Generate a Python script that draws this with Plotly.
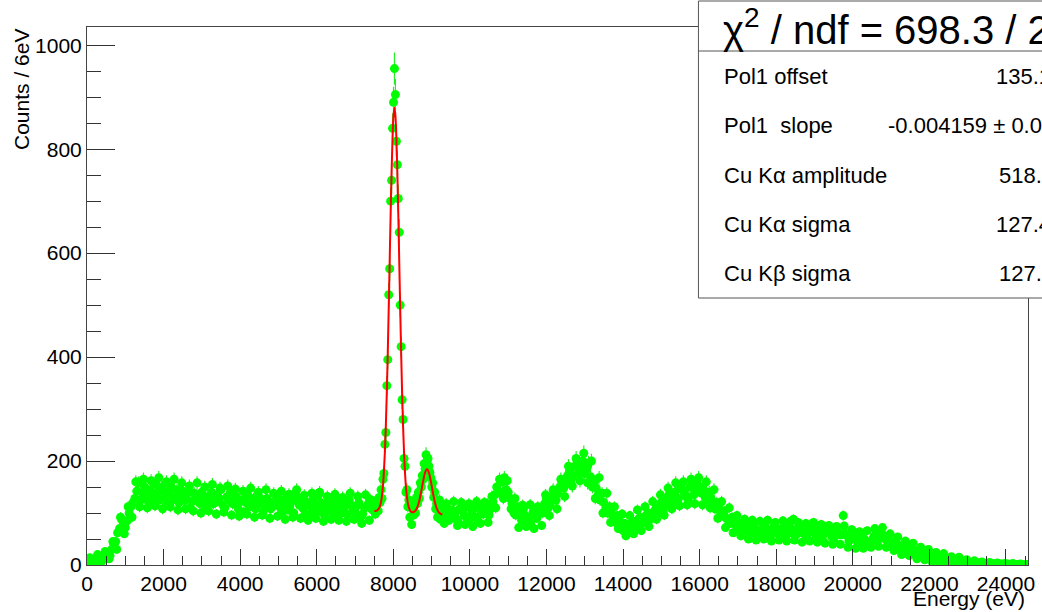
import numpy as np
import plotly.graph_objects as go

# ---------------- data ----------------
# low-energy part, bins every 100 eV starting at 50 eV
counts_low = [3, 6, 9, 12, 16, 20, 30, 45, 70, 78,
              85, 112, 128, 158, 138, 130, 145, 128, 140, 150,
              132, 140, 126, 145, 135, 124, 140, 122, 130, 118,
              133, 125, 140, 120, 128, 115, 131, 140, 118, 108,
              125, 120, 112, 128, 116, 124, 110, 122, 118, 132,
              110, 120, 106, 125, 138, 115, 108, 120, 100, 113,
              135, 108, 118, 104, 122, 112, 100, 118, 125, 108,
              114, 92, 110, 118, 106]
energy_low = 50 + 100 * np.arange(len(counts_low))

# interleaved low-energy bins, every 100 eV starting at 100 eV
counts_low_b = [5, 2, 14, 10, 22, 18, 40, 62, 88, 72,
                100, 120, 142, 125, 150, 122, 138, 155, 125, 142,
                118, 150, 130, 120, 142, 128, 110, 138, 125, 140,
                112, 128, 118, 135, 145, 110, 125, 118, 132, 122,
                102, 135, 118, 108, 130, 102, 128, 108, 115, 126,
                100, 130, 114, 100, 122, 128, 96, 115, 126, 102,
                120, 96, 128, 112, 98, 125, 108, 98, 115, 102,
                120, 98, 112, 126]
energy_low_b = 100 + 100 * np.arange(len(counts_low_b))

# upward fluctuations along the top of the band (every 200 eV from 75 eV)
counts_low_top = [14, 20, 26, 45, 92, 112, 160, 165, 162, 168,
                  160, 165, 158, 152, 158, 150, 155, 148, 152, 146,
                  142, 148, 140, 145, 138, 142, 136, 145, 134, 138,
                  140, 132, 136, 130, 138, 132, 135]
energy_low_top = 75 + 200 * np.arange(len(counts_low_top))

# downward fluctuations along the bottom of the band (every 200 eV from 175 eV)
counts_low_bot = [2, 6, 12, 30, 60, 92, 112, 110, 114, 108,
                  112, 106, 108, 104, 100, 104, 98, 102, 96, 94,
                  98, 92, 96, 90, 94, 88, 92, 90, 86, 90,
                  84, 88, 86, 84, 88, 80, 86]
energy_low_bot = 175 + 200 * np.arange(len(counts_low_bot))

# Cu K-alpha / K-beta region, every 25 eV starting at 7505 eV
counts_peak = [112, 98, 118, 125, 104, 130, 120, 145, 128, 165,
               176, 232, 255, 345, 395, 520, 570, 700, 740, 840,
               890, 955, 905, 815, 770, 705, 640, 500, 420, 318,
               280, 205, 190, 140, 145, 112, 125, 92, 115, 78,
               108, 96, 120, 100, 130, 118, 140, 128, 158, 150,
               172, 165, 195, 185, 212, 200, 205, 190, 178, 168,
               150, 158, 130, 140, 108, 118, 92, 104, 125, 88,
               106, 94, 112, 80, 100, 118, 95, 108, 86]
energy_peak = 7505 + 25 * np.arange(len(counts_peak))

# high-energy part, every 100 eV starting at 9550 eV
counts_high = [105, 88, 110, 95, 84, 102, 92, 112, 98, 118,
               108, 135, 142, 160, 145, 128, 100, 112, 86, 95,
               80, 102, 90, 108, 118, 110, 132, 125, 150, 148,
               172, 165, 190, 178, 200, 185, 170, 160, 135, 138,
               110, 112, 88, 95, 72, 80, 65, 84, 78, 92,
               85, 100, 95, 108, 112, 105, 128, 122, 140, 128,
               145, 132, 150, 135, 155, 138, 130, 140, 118, 120,
               100, 104, 86, 92, 76, 80, 66, 75, 62, 70,
               64, 72, 58, 68, 75, 62, 70, 56, 74, 88,
               60, 68, 58, 72, 64, 55, 68, 60, 70, 54,
               62, 58, 95, 56, 50, 60, 42, 52, 45, 40,
               55, 48, 62, 50, 44, 38, 42, 32, 36, 28,
               33, 25, 27, 20, 24, 16, 18, 14, 16, 11,
               12, 9, 10, 7, 8, 5, 6, 4, 5, 3,
               3, 2, 3, 2, 1, 2, 1, 1, 1, 0, 1]
energy_high = 9550 + 100 * np.arange(len(counts_high))

# interleaved high-energy bins, every 100 eV starting at 9600 eV
counts_high_b = [98, 82, 104, 112, 90, 108, 86, 100, 110, 96,
                 122, 150, 138, 168, 140, 118, 96, 100, 108, 92,
                 84, 98, 104, 100, 128, 118, 140, 138, 160, 158,
                 180, 172, 198, 188, 176, 196, 150, 148, 125, 120,
                 100, 98, 82, 86, 66, 74, 78, 70, 88, 80,
                 95, 88, 102, 98, 120, 115, 135, 132, 120, 148,
                 140, 125, 160, 145, 150, 145, 125, 128, 108, 112,
                 95, 90, 80, 84, 70, 74, 70, 60, 74, 58,
                 66, 78, 64, 60, 72, 56, 64, 76, 62, 68,
                 74, 62, 55, 70, 75, 60, 52, 64, 66, 50,
                 64, 58, 60, 46, 55, 48, 58, 50, 44, 48,
                 58, 52, 56, 46, 40, 46, 36, 30, 34, 30,
                 28, 22, 25, 18, 20, 14, 17, 12, 13, 10,
                 11, 8, 9, 6, 7, 4, 5, 4, 3, 2,
                 3, 2, 1, 2, 1, 1, 0, 1, 1, 0]
energy_high_b = 9600 + 100 * np.arange(len(counts_high_b))

# upward fluctuations along the top of the band (every 200 eV from 9575 eV)
counts_high_top = [122, 120, 118, 122, 120, 132, 165, 162, 128, 115,
                   116, 112, 135, 145, 165, 190, 205, 215, 200, 168,
                   138, 112, 98, 95, 106, 112, 122, 135, 148, 158,
                   160, 165, 168, 160, 145, 122, 110, 95, 88, 86,
                   84, 86, 82, 85, 84, 82, 80, 82, 78, 76,
                   74, 75, 68, 64, 66, 70, 72, 60, 54, 46,
                   42, 34, 30, 24, 22, 16, 15, 10, 8, 6,
                   5, 4, 3, 3, 2]
energy_high_top = 9575 + 200 * np.arange(len(counts_high_top))

# downward fluctuations along the bottom of the band (every 200 eV from 9675 eV)
counts_high_bot = [76, 78, 74, 80, 82, 110, 128, 108, 72, 74,
                   70, 76, 95, 108, 132, 152, 162, 158, 128, 100,
                   82, 70, 56, 60, 66, 74, 88, 96, 108, 114,
                   116, 118, 116, 110, 90, 72, 62, 56, 50, 48,
                   50, 46, 48, 46, 48, 44, 46, 44, 42, 40,
                   40, 34, 32, 32, 34, 36, 34, 28, 20, 18,
                   12, 10, 6, 5, 3, 2, 1, 0, 0, 0,
                   0, 0, 0, 0, 0]
energy_high_bot = 9675 + 200 * np.arange(len(counts_high_bot))

# fitted curve (pol1 + two gaussians) sampled every 25 eV from 7505 eV
fit_values = [104.0, 104.1, 104.5, 105.1, 106.7, 109.2, 113.9, 121.6, 134.0, 152.8,
              180.0, 218.1, 268.5, 331.9, 408.0, 493.5, 585.0, 675.4, 757.0, 822.6,
              864.7, 879.6, 864.5, 822.2, 756.0, 674.6, 584.0, 492.3, 406.5, 330.3,
              266.7, 216.1, 178.0, 150.3, 131.3, 118.6, 110.8, 106.0, 103.2, 102.0,
              101.6, 101.9, 103.0, 104.9, 107.8, 111.9, 117.3, 124.3, 132.6, 142.0,
              151.9, 161.9, 170.8, 178.0, 182.6, 184.1, 182.4, 177.6, 170.2, 161.1,
              150.9, 140.7, 131.1, 122.6, 115.4, 109.8, 105.5, 102.3, 100.1, 98.6,
              97.6, 97.0]
fit_energy = 7505 + 25 * np.arange(len(fit_values))

x_ticks = [0, 2000, 4000, 6000, 8000, 10000, 12000, 14000, 16000, 18000, 20000, 22000, 24000]
y_ticks = [0, 200, 400, 600, 800, 1000]

stat_names = ["Pol1 offset", "Pol1  slope", "Cu K\u03b1 amplitude", "Cu K\u03b1 sigma", "Cu K\u03b2 sigma"]
stat_values = ["135.1 \u00b1 1.2", "-0.004159 \u00b1 0.000134", "518.2 \u00b1 7.9", "127.4 \u00b1 1.3", "127.  \u00b1 1.3"]
chi2_text = "\u03c7<sup>2</sup> / ndf = 698.3 / 245"

# ---------------- figure ----------------
W, H = 1042, 612
L, R, T, B = 87, 1035, 27, 565
FONT = "Liberation Sans, Arial, sans-serif"


def px(xp):
    return (xp - L) / (R - L)


def py(yp):
    return (B - yp) / (B - T)


energy = np.concatenate([energy_low, energy_low_b, energy_low_top, energy_low_bot, energy_peak,
                         energy_high, energy_high_b, energy_high_top, energy_high_bot])
counts = np.array(counts_low + counts_low_b + counts_low_top + counts_low_bot + counts_peak
                  + counts_high + counts_high_b + counts_high_top + counts_high_bot, dtype=float)
order = np.argsort(energy, kind="stable")
energy = energy[order]
counts = counts[order]
errors = np.sqrt(counts)

fig = go.Figure()
fig.add_trace(go.Scatter(
    x=energy, y=counts, mode="markers",
    marker=dict(color="#00ff00", size=9, line=dict(width=0)),
    error_y=dict(type="data", array=errors, visible=True, color="rgba(0,235,0,0.85)",
                 thickness=1.2, width=0),
    showlegend=False, hoverinfo="skip"))
fig.add_trace(go.Scatter(
    x=fit_energy, y=fit_values, mode="lines", line=dict(color="#ff0000", width=2, shape="spline"),
    showlegend=False, hoverinfo="skip"))

axis_common = dict(showgrid=False, zeroline=False, showline=True, mirror=True,
                   linecolor="#444444", linewidth=1, ticks="inside", tickcolor="#333333",
                   tickfont=dict(family=FONT, size=21, color="black"))

fig.update_xaxes(range=[0, 24576], tickvals=x_ticks, ticktext=[str(v) for v in x_ticks],
                 ticklen=16, tickwidth=1,
                 minor=dict(dtick=500, tick0=0, ticklen=9, ticks="inside", tickcolor="#333333"),
                 **axis_common)
fig.update_yaxes(range=[0, 1035], tickvals=y_ticks, ticktext=[str(v) for v in y_ticks],
                 ticklen=28, tickwidth=1,
                 minor=dict(dtick=50, tick0=0, ticklen=14, ticks="inside", tickcolor="#333333"),
                 **axis_common)

shapes = [
    dict(type="rect", xref="paper", yref="paper", x0=px(703), x1=px(1060), y0=py(298), y1=py(1),
         line=dict(color="#555555", width=1), fillcolor="white", layer="above"),
    dict(type="line", xref="paper", yref="paper", x0=px(703), x1=px(1060), y0=py(51), y1=py(51),
         line=dict(color="#555555", width=1), layer="above"),
]

annotations = [
    dict(text="Counts / 6eV", textangle=-90, xref="paper", yref="paper", x=px(21), y=py(27),
         xanchor="center", yanchor="top", showarrow=False, font=dict(family=FONT, size=21, color="black")),
    dict(text="Energy (eV)", xref="paper", yref="paper", x=px(1034), y=py(612),
         xanchor="right", yanchor="bottom", showarrow=False, font=dict(family=FONT, size=21, color="black")),
    dict(text=chi2_text, xref="paper", yref="paper", x=px(726), y=py(27),
         xanchor="left", yanchor="middle", showarrow=False, font=dict(family=FONT, size=40, color="black")),
]
row_y = [77, 126, 175, 224, 273]
val_x = [1001, 892, 1004, 1001, 1004]
for name, val, yy, vx in zip(stat_names, stat_values, row_y, val_x):
    annotations.append(dict(text=name, xref="paper", yref="paper", x=px(727), y=py(yy),
                            xanchor="left", yanchor="middle", showarrow=False,
                            font=dict(family=FONT, size=22, color="black")))
    annotations.append(dict(text=val, xref="paper", yref="paper", x=px(vx), y=py(yy),
                            xanchor="left", yanchor="middle", showarrow=False,
                            font=dict(family=FONT, size=22, color="black")))

fig.update_layout(width=W, height=H, margin=dict(l=L, r=W - R, t=T, b=H - B, pad=0),
                  paper_bgcolor="white", plot_bgcolor="white",
                  shapes=shapes, annotations=annotations, showlegend=False)

fig.write_html("out.html")
